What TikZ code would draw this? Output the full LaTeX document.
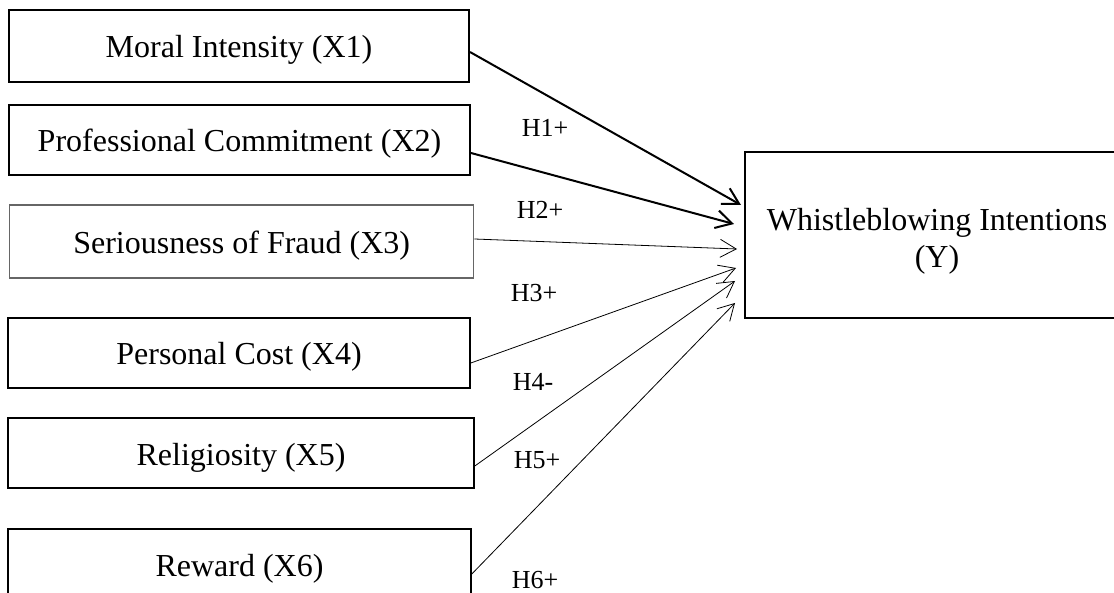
\documentclass[tikz,border=0pt]{standalone}
\usepackage{fontspec}
\setmainfont{Liberation Serif}
\usetikzlibrary{arrows.meta}
\definecolor{boxgray}{HTML}{666666}
\tikzset{
  varbox/.style={draw, rectangle, inner sep=0pt, text height=31pt, text depth=7pt, font=\fontsize{32}{37}\selectfont},
  hlabel/.style={inner sep=0pt, font=\fontsize{26}{30}\selectfont},
  thickarrow/.style={line width=2pt, -{Straight Barb[length=16pt,width=18pt,line width=2pt]}},
  thinarrow/.style={line width=0.8pt, -{Straight Barb[length=16pt,width=18pt,line width=0.8pt]}}
}
\begin{document}
\begin{tikzpicture}[x=1pt,y=-1pt]
\clip (0,0) rectangle (1114,593);
\fill[white] (0,0) rectangle (1114,593);
% boxes
\node[varbox, line width=2pt, minimum width=460pt, minimum height=72pt] (b1) at (239,46) {Moral Intensity (X1)};
\node[varbox, line width=2pt, minimum width=461pt, minimum height=70pt] (b2) at (239.5,140) {Professional Commitment (X2)};
\node[varbox, draw=boxgray, line width=1.3pt, minimum width=464pt, minimum height=73pt] (b3) at (241.7,241.5) {Seriousness of Fraud (X3)};
\node[varbox, line width=1.6pt, minimum width=462pt, minimum height=70pt] (b4) at (239,353) {Personal Cost (X4)};
\node[varbox, line width=1.6pt, minimum width=466pt, minimum height=70pt] (b5) at (241,453) {Religiosity (X5)};
\node[varbox, line width=1.6pt, minimum width=463pt, minimum height=70pt] (b6) at (239.5,564) {Reward (X6)};
\node[draw, rectangle, inner sep=0pt, line width=1.2pt, minimum width=384pt, minimum height=166pt] (y) at (937,235) {};
\node[inner sep=0pt, align=center, font=\fontsize{32}{37}\selectfont] (ytext) at ([yshift=-6pt]y.center) {Whistleblowing Intentions\\(Y)};
% arrow targets
\coordinate (t1) at (741,205);
\coordinate (t2) at (734,224);
\coordinate (t3) at (737,249);
\coordinate (t4) at (736,268);
\coordinate (t5) at (735,281);
\coordinate (t6) at (735,303);
% arrows
\draw[thickarrow] ([yshift=-6pt]b1.east) -- (t1);
\draw[thickarrow] ([yshift=-13pt]b2.east) -- (t2);
\draw[thinarrow] ([yshift=2.5pt]b3.east) -- (t3);
\draw[thinarrow] ([yshift=-10pt]b4.east) -- (t4);
\draw[thinarrow] ([yshift=-13pt]b5.east) -- (t5);
\draw[thinarrow] ([yshift=-10pt]b6.east) -- (t6);
% labels
\node[hlabel] (h1) at (545,128) {H1+};
\node[hlabel] (h2) at (540,210) {H2+};
\node[hlabel] (h3) at (534,293) {H3+};
\node[hlabel] (h4) at (533,382) {H4-};
\node[hlabel] (h5) at (537,460) {H5+};
\node[hlabel] (h6) at (535,580) {H6+};
\end{tikzpicture}
\end{document}
